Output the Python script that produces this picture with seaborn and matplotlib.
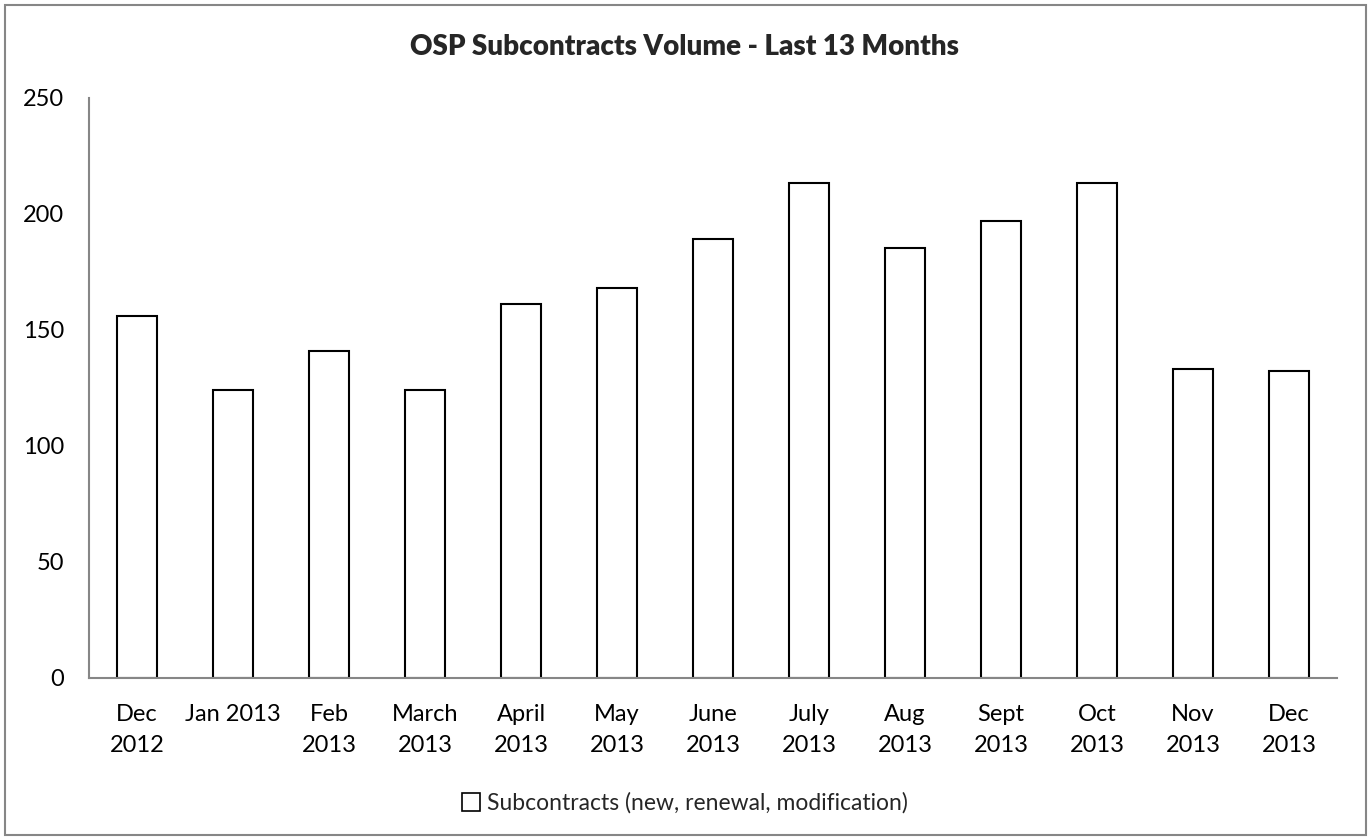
import matplotlib
matplotlib.use('Agg')
import matplotlib.pyplot as plt
from matplotlib.patches import Patch, Rectangle
import pandas as pd
import seaborn as sns

# dati
months = ['Dec\n2012', 'Jan 2013', 'Feb\n2013', 'March\n2013', 'April\n2013',
          'May\n2013', 'June\n2013', 'July\n2013', 'Aug\n2013', 'Sept\n2013',
          'Oct\n2013', 'Nov\n2013', 'Dec\n2013']
volume = [156, 124, 141, 124, 161, 168, 189, 213, 185, 197, 213, 133, 132]
series_name = 'Subcontracts (new, renewal, modification)'
title = 'OSP Subcontracts Volume - Last 13 Months'

sns.set_style('white')
plt.rcParams['font.family'] = ['Lato', 'DejaVu Sans']

df = pd.DataFrame({'month': months, 'volume': volume})

W, H = 1370, 840
fig = plt.figure(figsize=(W / 100, H / 100), dpi=100)
ax = fig.add_axes([89 / W, 1 - 678 / H, (1337 - 89) / W, (678 - 97.5) / H])

sns.barplot(data=df, x='month', y='volume', ax=ax, color='white',
            edgecolor='black', linewidth=1.5, width=0.41, saturation=1)

ax.set_ylim(0, 250)
ax.set_xlim(-0.5, len(months) - 0.5)
ax.set_yticks(range(0, 251, 50))
ax.set_xlabel('')
ax.set_ylabel('')
ax.tick_params(axis='both', length=0, labelsize=17, colors='black')
ax.tick_params(axis='x', pad=19)
ax.tick_params(axis='y', pad=18)
for lab in ax.get_xticklabels():
    lab.set_linespacing(1.55)

for s in ['top', 'right']:
    ax.spines[s].set_visible(False)
for s in ['left', 'bottom']:
    ax.spines[s].set_color('#868686')
    ax.spines[s].set_linewidth(1.5)

fig.text(0.5, 1 - 47 / H, title, ha='center', va='center',
         fontsize=20, fontweight='heavy')

handle = Patch(facecolor='white', edgecolor='black', linewidth=1.2)
fig.legend([handle], [series_name], loc='center', bbox_to_anchor=(0.5, 1 - 803 / H),
           frameon=False, fontsize=16.5, handlelength=0.8, handleheight=0.8,
           handletextpad=0.3)

# bordo del grafico
fig.patches.append(Rectangle((5 / W, 5 / H), 1361 / W, 830 / H, transform=fig.transFigure,
                             fill=False, edgecolor='#868686', linewidth=1.5))

fig.savefig('out.png', dpi=100)
